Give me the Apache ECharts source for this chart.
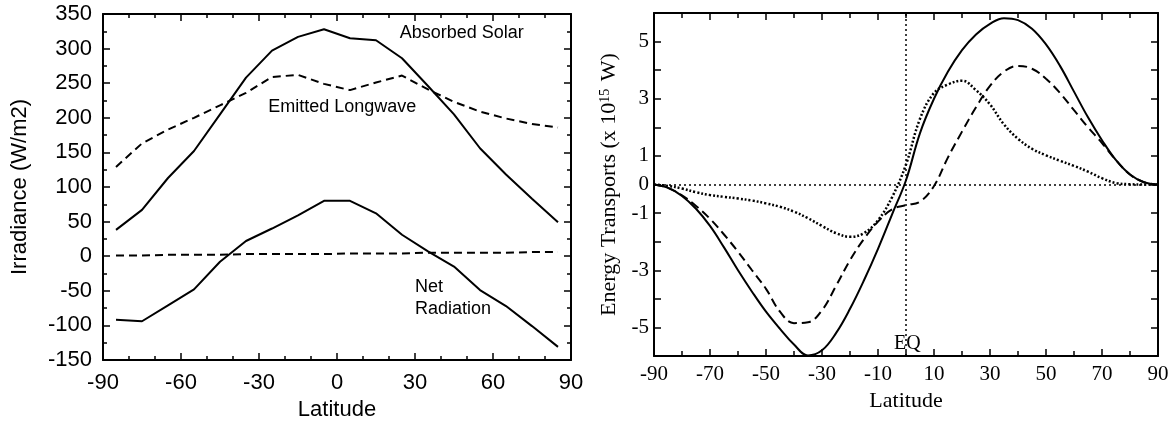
<!DOCTYPE html>
<html>
<head>
<meta charset="utf-8">
<script src="https://cdn.jsdelivr.net/npm/echarts@6/dist/echarts.min.js"></script>
<style>
  html, body { margin: 0; padding: 0; background: #fff; }
  #chart { width: 1173px; height: 426px; }
</style>
</head>
<body>
<div id="chart"></div>
<script>
// left panel: zonal means in 10-degree bands
const bandLat = [-85, -75, -65, -55, -45, -35, -25, -15, -5, 5, 15, 25, 35, 45, 55, 65, 75, 85];
const absorbedSolar = [38, 67, 113, 152, 205, 258, 297, 317, 328, 315, 312, 286, 246, 205, 156, 118, 83, 49];
const emittedLongwave = [129, 163, 183, 200, 218, 236, 259, 262, 249, 240, 251, 261, 241, 223, 209, 199, 191, 186];
const netRadiation = [-92, -94, -71, -48, -8, 22, 40, 59, 80, 80, 62, 31, 7, -15, -49, -72, -101, -131];
const globalNet = [1, 1, 2, 2, 2, 3, 3, 3, 3, 4, 4, 4, 5, 5, 5, 5, 6, 6];

// right panel: northward transports (x 10^15 W)
const transLat = [-90, -85, -80, -75, -70, -65, -60, -55, -50, -45, -40, -35, -30, -25, -20, -15, -10, -5, 0,
  5, 10, 15, 20, 25, 30, 35, 40, 45, 50, 55, 60, 65, 70, 75, 80, 85, 90];
const totalTransport = [0, -0.12, -0.4, -0.85, -1.45, -2.2, -3.0, -3.75, -4.45, -5.05, -5.6, -5.98, -5.8, -5.2, -4.35, -3.35, -2.25, -1.05, 0.15,
  1.8, 3.0, 3.95, 4.7, 5.25, 5.62, 5.82, 5.75, 5.45, 4.9, 4.15, 3.25, 2.35, 1.55, 0.85, 0.35, 0.08, 0];
const atmosTransport = [0, -0.12, -0.38, -0.75, -1.2, -1.75, -2.35, -3.0, -3.65, -4.45, -4.85, -4.82, -4.4, -3.55, -2.65, -1.9, -1.3, -0.87, -0.72,
  -0.6, -0.05, 0.95, 1.85, 2.7, 3.45, 3.95, 4.15, 4.05, 3.7, 3.2, 2.6, 2.0, 1.45, 0.85, 0.35, 0.08, 0];
const oceanTransport = [0, -0.05, -0.14, -0.27, -0.37, -0.43, -0.49, -0.56, -0.66, -0.78, -0.95, -1.18, -1.45, -1.7, -1.83, -1.7, -1.25, -0.45, 0.7,
  2.3, 3.2, 3.5, 3.63, 3.3, 2.8, 2.1, 1.6, 1.25, 1.02, 0.83, 0.65, 0.45, 0.22, 0.05, 0.01, 0, 0];

const pairs = (xs, ys) => xs.map((x, i) => [x, ys[i]]);

const sans = 'Liberation Sans';
const serif = 'Liberation Serif';

function frameAxis(grid, pos, font, opts) {
  const labelled = pos === 'bottom' || pos === 'left';
  return Object.assign({
    gridIndex: grid,
    type: 'value',
    position: pos,
    axisLine: { onZero: false, lineStyle: { color: '#000', width: 2 } },
    axisTick: { inside: true, length: 7, lineStyle: { color: '#000', width: 1.5 } },
    minorTick: { show: true, length: 4, lineStyle: { color: '#000', width: 1.5 } },
    splitLine: { show: false },
    minorSplitLine: { show: false },
    axisLabel: { show: labelled, color: '#000', fontFamily: font, fontSize: 21 },
    nameTextStyle: { color: '#000', fontFamily: font, fontSize: 22 }
  }, opts);
}

const chart = echarts.init(document.getElementById('chart'));

const option = {
  backgroundColor: '#fff',
  animation: false,
  grid: [
    { left: 103, right: 602, top: 14, bottom: 65 },
    { left: 654, right: 15, top: 13, bottom: 70 }
  ],
  xAxis: [
    frameAxis(0, 'bottom', sans, {
      min: -90, max: 90, interval: 30,
      minorTick: { show: true, splitNumber: 3, length: 4, lineStyle: { color: '#000', width: 1.5 } },
      axisLabel: { color: '#000', fontFamily: sans, fontSize: 22, margin: 12 },
      name: 'Latitude', nameLocation: 'middle', nameGap: 39
    }),
    frameAxis(0, 'top', sans, {
      min: -90, max: 90, interval: 30,
      minorTick: { show: true, splitNumber: 3, length: 4, lineStyle: { color: '#000', width: 1.5 } }
    }),
    frameAxis(1, 'bottom', serif, {
      min: -90, max: 90, interval: 20,
      minorTick: { show: true, splitNumber: 2, length: 5, lineStyle: { color: '#000', width: 1.5 } },
      axisLabel: { color: '#000', fontFamily: serif, fontSize: 21, margin: 8 },
      name: 'Latitude', nameLocation: 'middle', nameGap: 30
    }),
    frameAxis(1, 'top', serif, {
      min: -90, max: 90, interval: 20,
      minorTick: { show: true, splitNumber: 2, length: 5, lineStyle: { color: '#000', width: 1.5 } }
    })
  ],
  yAxis: [
    frameAxis(0, 'left', sans, {
      min: -150, max: 350, interval: 50,
      minorTick: { show: true, splitNumber: 2, length: 4, lineStyle: { color: '#000', width: 1.5 } },
      axisLabel: { color: '#000', fontFamily: sans, fontSize: 22, margin: 11 },
      name: 'Irradiance (W/m2)', nameLocation: 'middle', nameGap: 72
    }),
    frameAxis(0, 'right', sans, {
      min: -150, max: 350, interval: 50,
      minorTick: { show: true, splitNumber: 2, length: 4, lineStyle: { color: '#000', width: 1.5 } }
    }),
    frameAxis(1, 'left', serif, {
      min: -6, max: 6, interval: 1,
      minorTick: { show: false },
      axisLabel: {
        color: '#000', fontFamily: serif, fontSize: 21, margin: 5,
        formatter: (v) => (v === 0 || Math.abs(v) % 2 === 1) ? String(v) : ''
      },
      name: '{t|Energy Transports (x 10}{s|15}{t| W)}',
      nameLocation: 'middle', nameGap: 34,
      nameTextStyle: {
        color: '#000', fontFamily: serif, fontSize: 22,
        rich: {
          t: { fontFamily: serif, fontSize: 22, color: '#000' },
          s: { fontFamily: serif, fontSize: 14, color: '#000', verticalAlign: 'top', padding: [0, 2, 8, 0] }
        }
      }
    }),
    frameAxis(1, 'right', serif, {
      min: -6, max: 6, interval: 1,
      minorTick: { show: false }
    })
  ],
  series: [
    {
      type: 'line', xAxisIndex: 0, yAxisIndex: 0, data: pairs(bandLat, absorbedSolar),
      symbol: 'none', lineStyle: { color: '#000', width: 2 },
      markPoint: {
        silent: true, symbol: 'circle', symbolSize: 1,
        itemStyle: { color: 'rgba(0,0,0,0)' },
        label: { show: true, position: 'inside', color: '#000', fontFamily: sans, fontSize: 18, formatter: (p) => p.name },
        data: [
          { name: 'Absorbed Solar', coord: [48, 322] },
          { name: 'Emitted Longwave', coord: [2, 215] },
          { name: 'Net\nRadiation', coord: [30, -61], label: { align: 'left', lineHeight: 22 } }
        ]
      }
    },
    {
      type: 'line', xAxisIndex: 0, yAxisIndex: 0, data: pairs(bandLat, emittedLongwave),
      symbol: 'none', lineStyle: { color: '#000', width: 2, type: [8, 5] }
    },
    {
      type: 'line', xAxisIndex: 0, yAxisIndex: 0, data: pairs(bandLat, netRadiation),
      symbol: 'none', lineStyle: { color: '#000', width: 2 }
    },
    {
      type: 'line', xAxisIndex: 0, yAxisIndex: 0, data: pairs(bandLat, globalNet),
      symbol: 'none', lineStyle: { color: '#000', width: 2, type: [8, 5] }
    },
    {
      type: 'line', xAxisIndex: 2, yAxisIndex: 2, data: pairs(transLat, totalTransport),
      symbol: 'none', smooth: 0.4, lineStyle: { color: '#000', width: 2 },
      markLine: {
        silent: true, symbol: 'none',
        label: { show: false },
        lineStyle: { color: '#000', width: 1.5, type: [2, 3] },
        data: [{ xAxis: 0 }, { yAxis: 0 }]
      },
      markPoint: {
        silent: true, symbol: 'circle', symbolSize: 1,
        itemStyle: { color: 'rgba(0,0,0,0)' },
        label: { show: true, position: 'inside', color: '#000', fontFamily: serif, fontSize: 20, formatter: (p) => p.name },
        data: [{ name: 'EQ', coord: [0.5, -5.57] }]
      }
    },
    {
      type: 'line', xAxisIndex: 2, yAxisIndex: 2, data: pairs(transLat, atmosTransport),
      symbol: 'none', smooth: 0.4, lineStyle: { color: '#000', width: 2, type: [9, 5] }
    },
    {
      type: 'line', xAxisIndex: 2, yAxisIndex: 2, data: pairs(transLat, oceanTransport),
      symbol: 'none', smooth: 0.4, lineStyle: { color: '#000', width: 2.5, type: [2, 2] }
    }
  ]
};

chart.setOption(option);
</script>
</body>
</html>
